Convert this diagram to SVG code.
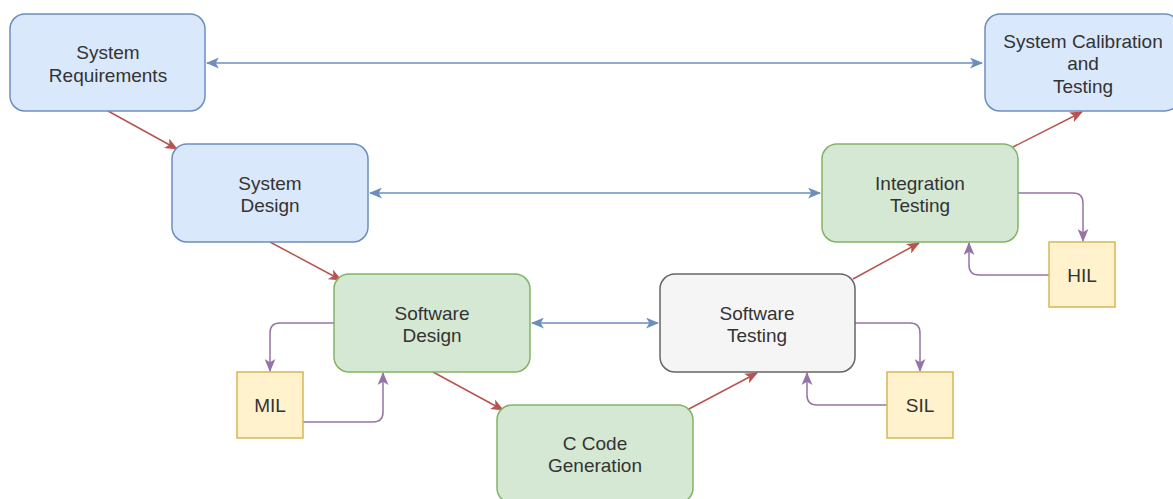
<svg xmlns="http://www.w3.org/2000/svg" width="1173" height="499" viewBox="0 0 1173 499">
<style>
.t{font-family:"Liberation Sans",Arial,sans-serif;font-size:19px;fill:#333333;text-anchor:middle}
.blue{fill:#dae8fc;stroke:#6c8ebf;stroke-width:1.5}
.green{fill:#d5e8d4;stroke:#82b366;stroke-width:1.5}
.gray{fill:#f5f5f5;stroke:#666666;stroke-width:1.5}
.yellow{fill:#fff2cc;stroke:#d6b656;stroke-width:1.5}
.eb{fill:none;stroke:#6c8ebf;stroke-width:1.5}
.er{fill:none;stroke:#b85450;stroke-width:1.5}
.ep{fill:none;stroke:#9673a6;stroke-width:1.5}
</style>
<defs>
<marker id="ab" viewBox="0 0 12 10" refX="11" refY="5" markerWidth="13" markerHeight="11" markerUnits="userSpaceOnUse" orient="auto-start-reverse"><path d="M0,0 L12,5 L0,10 L3,5 Z" fill="#6c8ebf"/></marker>
<marker id="ar" viewBox="0 0 12 10" refX="11" refY="5" markerWidth="13" markerHeight="11" markerUnits="userSpaceOnUse" orient="auto"><path d="M0,0 L12,5 L0,10 L3,5 Z" fill="#b85450"/></marker>
<marker id="ap" viewBox="0 0 12 10" refX="11" refY="5" markerWidth="13" markerHeight="11" markerUnits="userSpaceOnUse" orient="auto"><path d="M0,0 L12,5 L0,10 L3,5 Z" fill="#9673a6"/></marker>
</defs>
<g id="connectors">
<path class="eb" d="M207,63 L982,63" marker-start="url(#ab)" marker-end="url(#ab)"/>
<path class="eb" d="M370,193 L820,193" marker-start="url(#ab)" marker-end="url(#ab)"/>
<path class="eb" d="M532,323 L658,323" marker-start="url(#ab)" marker-end="url(#ab)"/>
<path class="er" d="M108,111 L177,149" marker-end="url(#ar)"/>
<path class="er" d="M270,242 L341,280" marker-end="url(#ar)"/>
<path class="er" d="M433,372 L503,410" marker-end="url(#ar)"/>
<path class="er" d="M687,410 L757,373" marker-end="url(#ar)"/>
<path class="er" d="M853,279 L919,243" marker-end="url(#ar)"/>
<path class="er" d="M1013,147 L1082,112" marker-end="url(#ar)"/>
<path class="ep" d="M334,323 L280,323 Q270,323 270,333 L270,371" marker-end="url(#ap)"/>
<path class="ep" d="M303,422 L373,422 Q383,422 383,412 L383,373" marker-end="url(#ap)"/>
<path class="ep" d="M855,323 L910,323 Q920,323 920,333 L920,371" marker-end="url(#ap)"/>
<path class="ep" d="M887,405 L817,405 Q807,405 807,395 L807,373" marker-end="url(#ap)"/>
<path class="ep" d="M1018,193 L1073,193 Q1083,193 1083,203 L1083,241" marker-end="url(#ap)"/>
<path class="ep" d="M1049,275 L979,275 Q969,275 969,265 L969,243" marker-end="url(#ap)"/>
</g>
<g id="system-requirements">
<rect class="blue" x="10" y="14" width="195" height="97" rx="15"/>
<text class="t" x="108" y="59">System</text>
<text class="t" x="108" y="81.5">Requirements</text>
</g>
<g id="system-design">
<rect class="blue" x="172" y="144" width="196" height="98" rx="15"/>
<text class="t" x="270" y="189.5">System</text>
<text class="t" x="270" y="212">Design</text>
</g>
<g id="system-calibration">
<rect class="blue" x="985" y="14" width="195" height="97" rx="15"/>
<text class="t" x="1083" y="47.5">System Calibration</text>
<text class="t" x="1083" y="70">and</text>
<text class="t" x="1083" y="92.5">Testing</text>
</g>
<g id="integration-testing">
<rect class="green" x="822" y="144" width="196" height="98" rx="15"/>
<text class="t" x="920" y="189.5">Integration</text>
<text class="t" x="920" y="212">Testing</text>
</g>
<g id="software-design">
<rect class="green" x="334" y="274" width="196" height="98" rx="15"/>
<text class="t" x="432" y="319.5">Software</text>
<text class="t" x="432" y="342">Design</text>
</g>
<g id="software-testing">
<rect class="gray" x="660" y="274" width="195" height="98" rx="15"/>
<text class="t" x="757" y="319.5">Software</text>
<text class="t" x="757" y="342">Testing</text>
</g>
<g id="c-code-generation">
<rect class="green" x="497" y="405" width="196" height="98" rx="15"/>
<text class="t" x="595" y="449.5">C Code</text>
<text class="t" x="595" y="472">Generation</text>
</g>
<g id="mil">
<rect class="yellow" x="237" y="372" width="66" height="66"/>
<text class="t" x="270" y="411.5">MIL</text>
</g>
<g id="sil">
<rect class="yellow" x="887" y="372" width="66" height="66"/>
<text class="t" x="920" y="411.5">SIL</text>
</g>
<g id="hil">
<rect class="yellow" x="1049" y="242" width="66" height="65"/>
<text class="t" x="1082" y="281.5">HIL</text>
</g>
</svg>
